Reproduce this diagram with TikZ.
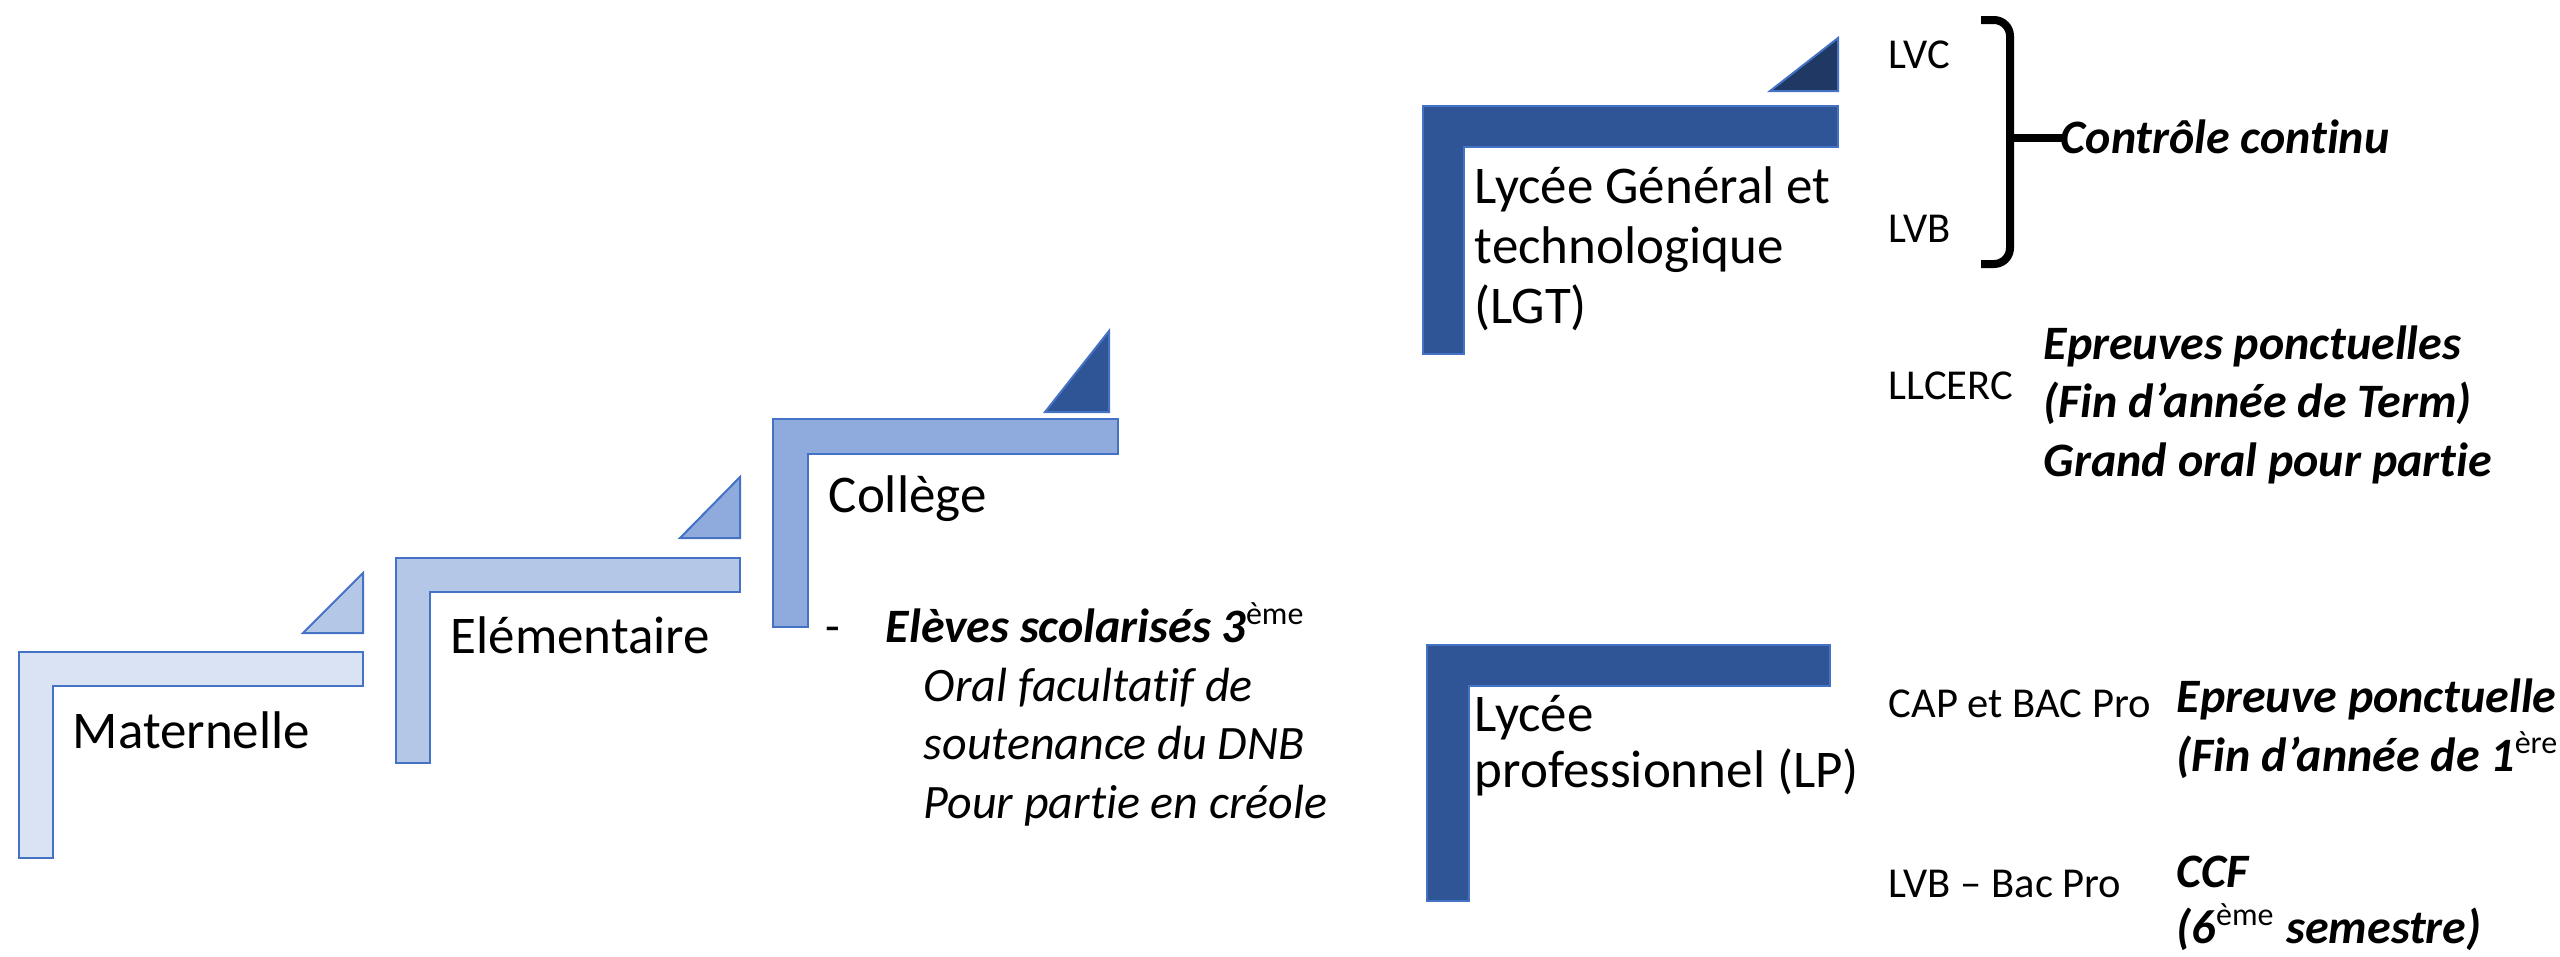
\documentclass[tikz,border=0pt]{standalone}
\usepackage{fontspec}
\setmainfont{Carlito}[RawFeature={-liga;-clig;-dlig}]
\definecolor{bord}{HTML}{4472C4}
\definecolor{cmat}{HTML}{DAE3F3}
\definecolor{celem}{HTML}{B4C7E7}
\definecolor{ccol}{HTML}{8FAADC}
\definecolor{clyc}{HTML}{2F5597}
\definecolor{cdark}{HTML}{203864}
\newcommand{\stepL}[7]{\draw[stepshape,fill=#1] (#2,#3) -- (#4,#3) -- (#4,#5) -- (#6,#5) -- (#6,#7) -- (#2,#7) -- cycle;}
\newcommand{\stepT}[6]{\draw[stepshape,fill=#1] (#2,#5) -- (#4,#5) -- (#4,#3) -- cycle;}
\tikzset{
  stepshape/.style={draw=bord, line width=0.5pt, line join=miter},
  lbl/.style={anchor=base west, inner sep=0pt, font=\fontsize{13.25}{16}\selectfont},
  sml/.style={anchor=base west, inner sep=0pt, font=\fontsize{10.65}{13}\selectfont},
  bitx/.style={anchor=base west, inner sep=0pt, font=\fontsize{12}{14}\selectfont\bfseries\itshape},
  ittx/.style={anchor=base west, inner sep=0pt, font=\fontsize{12}{14}\selectfont\itshape},
  brk/.style={line width=2pt, line cap=butt}
}
\newcommand{\supr}[1]{\textsuperscript{\mdseries\upshape #1}}
\begin{document}
\begin{tikzpicture}[x=0.25pt,y=-0.25pt]
\useasboundingbox (0,0) rectangle (2560,956);
\clip (0,0) rectangle (2560,956);
% step shapes
\stepL{cmat}{19}{652}{363}{686}{53}{858}
\stepT{celem}{303}{573}{363}{633}{}
\stepL{celem}{396}{558}{740}{592}{430}{763}
\stepT{ccol}{680}{477}{740}{538}{}
\stepL{ccol}{773}{419}{1118}{454}{808}{627}
\stepT{clyc}{1045}{331}{1109}{412}{}
\stepL{clyc}{1423}{106}{1838}{147}{1464}{354}
\stepT{cdark}{1770}{38}{1838}{91}{}
\stepL{clyc}{1427}{645}{1830}{686}{1469}{901}
% main labels
\node[lbl] (mat) at (72,748) {Maternelle};
\node[lbl] (elem) at (450,653) {Elémentaire};
\node[lbl] (col) at (828,512) {Collège};
\node[lbl] (lgt1) at (1474,203) {Lycée Général et};
\node[lbl] (lgt2) at (1474,263) {technologique};
\node[lbl] (lgt3) at (1474,323) {(LGT)};
\node[lbl] (lp1) at (1474,731) {Lycée};
\node[lbl] (lp2) at (1474,787) {professionnel (LP)};
% college details
\node[anchor=base west, inner sep=0pt, font=\fontsize{12}{14}\selectfont] (dash) at (825,642) {-};
\node[bitx] (col1) at (885,642) {Elèves scolarisés 3\supr{ème}};
\node[ittx] (col2) at (923,701) {Oral facultatif de};
\node[ittx] (col3) at (923,759) {soutenance du DNB};
\node[ittx] (col4) at (923,818) {Pour partie en créole};
% LGT details
\node[sml] (lvc) at (1888,68) {LVC};
\node[sml] (lvb) at (1888,242) {LVB};
\node[sml] (llc) at (1888,399) {LLCERC};
\draw[brk, rounded corners=4pt] (1981,20) -- (2010,20) -- (2010,264) -- (1981,264);
\coordinate (brkend) at (2066,138);
\draw[brk] (2010,138) -- (brkend);
\node[bitx] (cc) at (2060,153) {Contrôle continu};
\node[bitx] (ep1) at (2043,359) {Epreuves ponctuelles};
\node[bitx] (ep2) at (2043,417) {(Fin d’année de Term)};
\node[bitx] (ep3) at (2043,476) {Grand oral pour partie};
% LP details
\node[sml] (cap) at (1888,717) {CAP et BAC Pro};
\node[sml] (lvbp) at (1888,897) {LVB – Bac Pro};
\node[bitx] (epp1) at (2176,712) {Epreuve ponctuelle};
\node[bitx] (epp2) at (2176,771) {(Fin d’année de 1\supr{ère}};
\node[bitx] (ccf1) at (2176,887) {CCF};
\node[bitx] (ccf2) at (2176,943) {(6\supr{ème} semestre)};
\end{tikzpicture}
\end{document}
